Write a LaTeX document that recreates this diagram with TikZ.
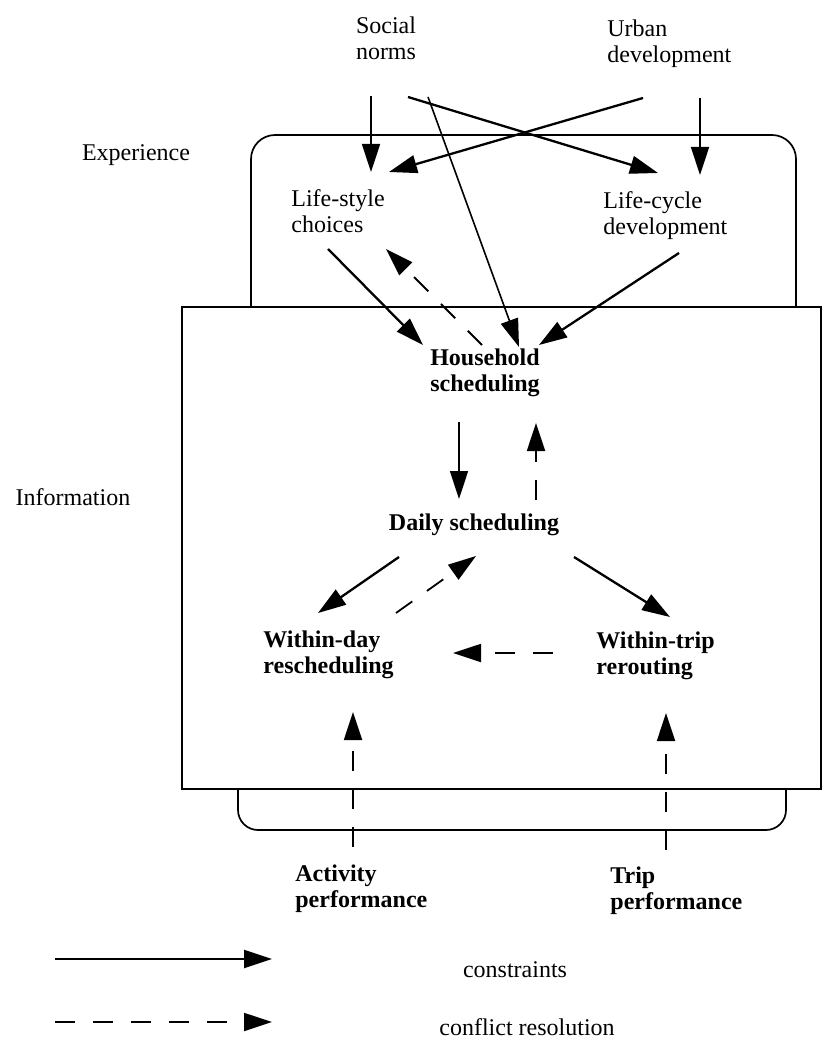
\documentclass[tikz,border=0pt]{standalone}
\usepackage{fontspec}
\setmainfont{Liberation Serif}
\usetikzlibrary{arrows.meta,calc}
\begin{document}
\begin{tikzpicture}[
    x=0.5pt, y=-0.5pt,
    every node/.style={font=\fontsize{12}{13.3}\selectfont, inner sep=0pt},
    factor/.style={align=left, anchor=north west},
    stage/.style={font=\fontsize{12}{13.3}\selectfont\bfseries},
    frame/.style={line width=0.85pt},
    constraint/.style={line width=1.15pt, -{Triangle[length=14pt,width=9pt]}},
    light/.style={constraint, line width=0.8pt},
    resolution/.style={constraint, line width=0.9pt, dash pattern=on 10pt off 9pt}
]
\useasboundingbox (0,0) rectangle (824,1042);

% rámečky
\draw[frame, rounded corners=12pt] (251,307) -- (251,135) -- (796,135) -- (796,307);
\draw[frame] (182,307) rectangle (821,789);
\draw[frame, rounded corners=10pt] (238,789) -- (238,830) -- (786,830) -- (786,789);

% uzly
\node[align=center, anchor=north] (social) at (386,16) {Social\\norms};
\node[factor] (urban) at (607,19) {Urban\\development};
\node[factor] (lifestyle) at (291,189) {Life-style\\choices};
\node[factor] (lifecycle) at (603,191) {Life-cycle\\development};
\node[stage, align=center, anchor=north] (household) at (485,348) {Household\\scheduling};
\node[stage, anchor=north] (daily) at (474,513) {Daily scheduling};
\node[stage, factor] (withinday) at (263,630) {Within-day\\rescheduling};
\node[stage, factor] (withintrip) at (596,631) {Within-trip\\rerouting};
\node[stage, factor] (activity) at (295,864) {Activity\\performance};
\node[stage, factor] (trip) at (610,866) {Trip\\performance};

% popisky oblastí
\node[anchor=base] (experience) at (136,161) {Experience};
\node[anchor=base] (information) at (73,505) {Information};

% omezení
\draw[light] ($(social.north)+(-15,80)$) -- ($(lifestyle.north west)+(80,-17)$);
\draw[constraint] ($(social.north)+(22,81)$) -- ($(lifecycle.north west)+(55,-18)$);
\draw[light] ($(social.north)+(42,81)$) -- ($(household.north)+(34,-1)$);
\draw[constraint] ($(urban.north west)+(36,79)$) -- ($(lifestyle.north west)+(98,-17)$);
\draw[light] ($(urban.north west)+(93,79)$) -- ($(lifecycle.north west)+(97,-16)$);
\draw[constraint] ($(lifestyle.north west)+(37,60)$) -- ($(household.north)+(-62,-3)$);
\draw[constraint] ($(lifecycle.north west)+(76,62)$) -- ($(household.north)+(54,-3)$);
\draw[light] ($(household.north)+(-26,74)$) -- ($(daily.north)+(-15,-14)$);
\draw[constraint] ($(daily.north)+(-75,44)$) -- ($(withinday.north west)+(55,-17)$);
\draw[constraint] ($(daily.north)+(100,44)$) -- ($(withintrip.north west)+(74,-14)$);

% řešení konfliktů
\draw[resolution] ($(household.north)+(-3,-3)$) -- ($(lifestyle.north west)+(95,60)$);
\draw[resolution] ($(daily.north)+(62,-13)$) -- ($(household.north)+(51,75)$);
\draw[resolution] ($(withinday.north west)+(133,-17)$) -- ($(daily.north)+(2,43)$);
\draw[resolution] ($(withintrip.north west)+(-43,22)$) -- ($(withinday.north west)+(190,23)$);
\draw[resolution] ($(activity.north west)+(58,-17)$) -- ($(withinday.north west)+(90,82)$);
\draw[resolution] ($(trip.north west)+(56,-16)$) -- ($(withintrip.north west)+(70,82)$);

% legenda
\coordinate (solidA) at (55,959);
\coordinate (solidB) at (272,959);
\coordinate (dashA) at (55,1022);
\coordinate (dashB) at (272,1022);
\draw[constraint] (solidA) -- (solidB);
\draw[resolution] (dashA) -- (dashB);
\node[anchor=base] (constraints) at (515,977) {constraints};
\node[anchor=base] (conflict) at (527,1035) {conflict resolution};

\end{tikzpicture}
\end{document}
